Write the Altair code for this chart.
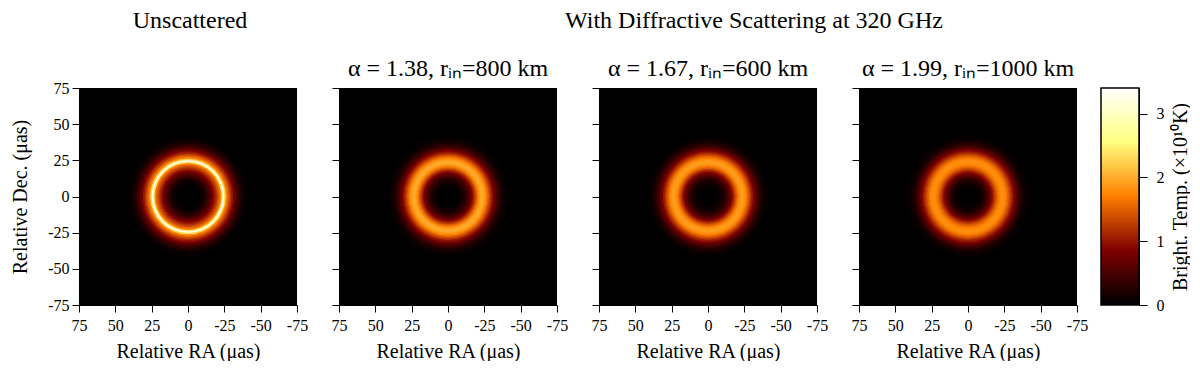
import altair as alt
import pandas as pd

FONT = "Liberation Serif"
TICKS = [75, 50, 25, 0, -25, -50, -75]
RADII = list(range(1, 51))
UNSCATTERED = [0,0,0,0,0,0,.01,.02,.04,.07,.11,.17,.25,.34,.45,.57,.7,.85,1.0,1.15,1.33,1.5,1.7,2.4,3.4,2.3,1.75,1.55,1.35,1.15,.98,.8,.65,.5,.38,.28,.2,.13,.08,.05,.03,.01,0,0,0,0,0,0,0,0]
SCAT_138 = [0,0,0,0,.01,.01,.02,.04,.07,.11,.16,.22,.3,.4,.52,.66,.84,1.02,1.22,1.44,1.64,1.82,1.95,2.0,1.95,1.85,1.7,1.52,1.34,1.15,.97,.8,.64,.5,.38,.28,.2,.14,.09,.06,.04,.02,.01,0,0,0,0,0,0,0]
SCAT_167 = [0,0,0,.01,.01,.02,.03,.05,.08,.12,.17,.24,.32,.42,.55,.7,.86,1.04,1.24,1.44,1.62,1.76,1.86,1.9,1.88,1.8,1.68,1.52,1.35,1.17,1.0,.83,.67,.53,.4,.3,.21,.15,.1,.06,.04,.02,.01,.01,0,0,0,0,0,0]
SCAT_199 = [0,0,.01,.01,.01,.02,.03,.05,.08,.12,.18,.25,.34,.45,.58,.73,.9,1.07,1.25,1.42,1.56,1.68,1.76,1.8,1.8,1.75,1.65,1.52,1.37,1.2,1.04,.88,.72,.58,.45,.33,.24,.17,.11,.07,.05,.03,.02,.01,0,0,0,0,0,0]
PANELS = [UNSCATTERED, SCAT_138, SCAT_167, SCAT_199]
TITLES = ["", "α = 1.38, rᵢₙ=800 km", "α = 1.67, rᵢₙ=600 km", "α = 1.99, rᵢₙ=1000 km"]
BAR_LEVELS = [i / 50 for i in range(0, 170)]
STOPS = [0, 0.85, 1.7, 2.55, 3.4]
COLORS = ["#000000", "#800000", "#ff8000", "#ffff80", "#ffffff"]

W, H = 218, 217
color = alt.Color("v:Q", scale=alt.Scale(domain=STOPS, range=COLORS, interpolate="rgb"), legend=None)
axis_common = dict(grid=False, domainColor="black", tickColor="black", tickSize=7, tickWidth=1,
                   labelFont=FONT, titleFont=FONT, labelFontSize=16, titleFontSize=20, labelColor="black",
                   titleColor="black", titleFontWeight="normal", values=TICKS, labelExpr="'' + datum.value",
                   labelPadding=3, labelFlush=False, labelOverlap=False)


def label(text, x, y):
    return alt.Chart(pd.DataFrame({"t": [text]})).mark_text(font=FONT, fontSize=24, color="black").encode(
        text="t:N", x=alt.value(x), y=alt.value(y))


def panel(vals, title, first):
    df = pd.DataFrame({"r": RADII, "v": vals}).iloc[::-1]
    if first:
        yaxis = alt.Axis(title="Relative Dec. (μas)", titlePadding=17, **axis_common)
    else:
        yc = dict(axis_common); yc.pop("labelExpr")
        yaxis = alt.Axis(title=None, labels=False, **yc)
    xc = dict(axis_common); xc.update(labelPadding=5)
    discs = alt.Chart(df).mark_arc(theta=0, theta2=6.2832, strokeWidth=0).encode(
        x=alt.X(datum=0, scale=alt.Scale(domain=[75, -75]),
                axis=alt.Axis(title="Relative RA (μas)", titlePadding=8, **xc)),
        y=alt.Y(datum=0, scale=alt.Scale(domain=[-75, 75]), axis=yaxis),
        radius=alt.Radius("r:Q", stack=None, scale=alt.Scale(type="linear", domain=[0, 75], range=[0, W / 2])),
        color=color,
    )
    layers = [discs]
    if first:
        layers.append(label("Unscattered", W / 2 + 2, -67))
    if title == TITLES[1]:
        layers.append(label("With Diffractive Scattering at 320 GHz", 415, -67))
    if title:
        layers.append(label(title, W / 2, -19))
    return alt.layer(*layers).properties(width=W, height=H, view=alt.ViewBackground(fill="black", stroke=None))


charts = [panel(v, t, i == 0) for i, (v, t) in enumerate(zip(PANELS, TITLES))]

bar_df = pd.DataFrame({"v": BAR_LEVELS})
bar_axis = dict(axis_common)
bar_axis.update(values=[0, 1, 2, 3], orient="right", title="Bright. Temp. (×10¹⁰K)", tickSize=8, labelPadding=9,
                titleAngle=270, titleX=41, titleY=H / 2, titleAlign="center", titleBaseline="middle")
bar = alt.Chart(bar_df).mark_rect().encode(
    x=alt.value(-18), x2=alt.value(20),
    y=alt.Y("v:Q", scale=alt.Scale(domain=[0, 3.4], nice=False), axis=alt.Axis(**bar_axis)),
    y2=alt.datum(3.4),
    color=color,
)
frame = alt.Chart(pd.DataFrame({"a": [0], "b": [3.4]})).mark_rect(fill=None, stroke="black", strokeWidth=1.5).encode(
    x=alt.value(-18), x2=alt.value(20), y=alt.Y("a:Q", scale=alt.Scale(domain=[0, 3.4], nice=False)), y2="b:Q")
cb = alt.layer(bar, frame).properties(width=20, height=H, view=alt.ViewBackground(stroke=None))

chart = alt.hconcat(*charts, cb, spacing=42, bounds="flush").resolve_scale(color="shared").properties(
    background="white", padding={"left": 2, "top": 1, "right": 0, "bottom": 0})
chart.save("out.html", embed_options={"renderer": "svg", "actions": False})
